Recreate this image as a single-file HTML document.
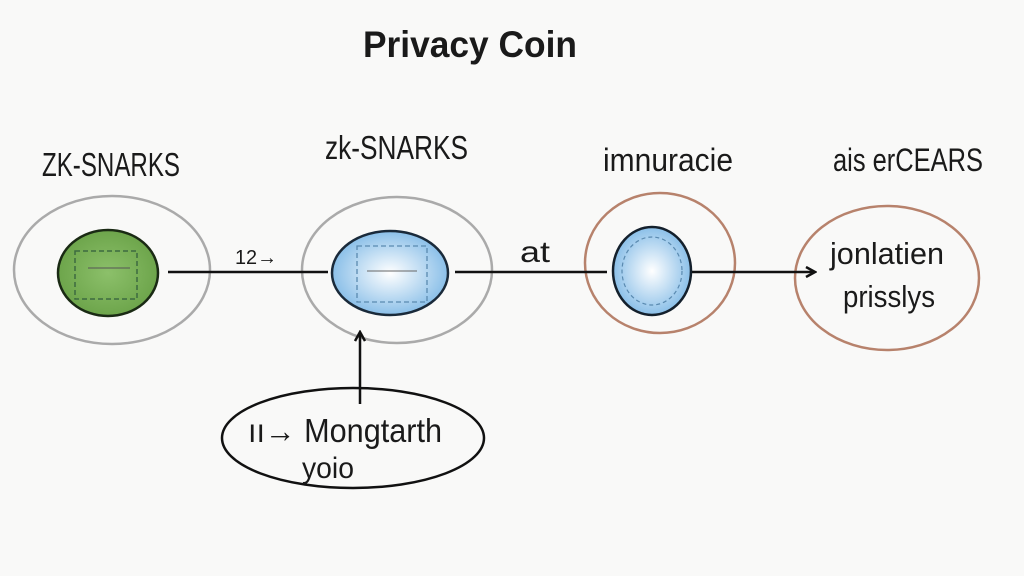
<!DOCTYPE html>
<html><head><meta charset="utf-8"><style>
html,body{margin:0;padding:0;background:#f9f9f8;}
svg{display:block}
text{font-family:"Liberation Sans",sans-serif;fill:#1a1a1a}
</style></head><body>
<svg width="1024" height="576" viewBox="0 0 1024 576" xmlns="http://www.w3.org/2000/svg">
<defs>
<radialGradient id="bg1" cx="50%" cy="50%" r="55%"><stop offset="0" stop-color="#ffffff"/><stop offset="1" stop-color="#7fb9e6"/></radialGradient>
<radialGradient id="gg" cx="50%" cy="50%" r="55%"><stop offset="0" stop-color="#8cc06a"/><stop offset="1" stop-color="#6aa248"/></radialGradient>
<marker id="ah" markerWidth="12" markerHeight="12" refX="10" refY="6" orient="auto" markerUnits="userSpaceOnUse"><path d="M1,1 L10,6 L1,11" fill="none" stroke="#111" stroke-width="2.5"/></marker>
</defs>
<rect width="1024" height="576" fill="#f9f9f8"/>
<text x="363" y="57" font-size="37" font-weight="bold" textLength="214" lengthAdjust="spacingAndGlyphs">Privacy Coin</text>
<text x="42" y="176" font-size="33" textLength="138" lengthAdjust="spacingAndGlyphs">ZK-SNARKS</text>
<text x="325" y="159" font-size="33" textLength="143" lengthAdjust="spacingAndGlyphs">zk-SNARKS</text>
<text x="603" y="171" font-size="32" textLength="130" lengthAdjust="spacingAndGlyphs">imnuracie</text>
<text x="833" y="171" font-size="32" textLength="150" lengthAdjust="spacingAndGlyphs">ais erCEARS</text>

<ellipse cx="112" cy="270" rx="98" ry="74" fill="none" stroke="#aaa" stroke-width="2.5"/>
<ellipse cx="108" cy="273" rx="50" ry="43" fill="url(#gg)" stroke="#1a2a14" stroke-width="2.5"/>
<rect x="75" y="251" width="62" height="48" fill="none" stroke="#3d6a40" stroke-width="1.5" stroke-dasharray="5,3"/>
<line x1="88" y1="268" x2="130" y2="268" stroke="#555" stroke-width="1"/>

<ellipse cx="397" cy="270" rx="95" ry="73" fill="none" stroke="#aaa" stroke-width="2.5"/>
<ellipse cx="390" cy="273" rx="58" ry="42" fill="url(#bg1)" stroke="#1a2a3a" stroke-width="2.5"/>
<rect x="357" y="246" width="70" height="56" fill="none" stroke="#5a8ab0" stroke-width="1.3" stroke-dasharray="5,3"/>
<line x1="367" y1="271" x2="417" y2="271" stroke="#666" stroke-width="1"/>

<ellipse cx="660" cy="263" rx="75" ry="70" fill="none" stroke="#b7826c" stroke-width="2.5"/>
<ellipse cx="652" cy="271" rx="39" ry="44" fill="url(#bg1)" stroke="#14202c" stroke-width="2.5"/>
<ellipse cx="652" cy="271" rx="30" ry="34" fill="none" stroke="#5a8ab0" stroke-width="1.2" stroke-dasharray="4,3"/>

<ellipse cx="887" cy="278" rx="92" ry="72" fill="none" stroke="#b7826c" stroke-width="2.5"/>
<text x="830" y="264" font-size="31" textLength="114" lengthAdjust="spacingAndGlyphs">jonlatien</text>
<text x="843" y="307" font-size="31" textLength="92" lengthAdjust="spacingAndGlyphs">prisslys</text>

<line x1="168" y1="272" x2="328" y2="272" stroke="#111" stroke-width="2.5"/>
<text x="235" y="264" font-size="20" textLength="42" lengthAdjust="spacingAndGlyphs">12→</text>
<line x1="455" y1="272" x2="607" y2="272" stroke="#111" stroke-width="2.5"/>
<text x="520" y="262" font-size="30" textLength="30" lengthAdjust="spacingAndGlyphs">at</text>
<line x1="692" y1="272" x2="815" y2="272" stroke="#111" stroke-width="2.5" marker-end="url(#ah)"/>
<line x1="360" y1="404" x2="360" y2="332" stroke="#111" stroke-width="2.5" marker-end="url(#ah)"/>

<ellipse cx="353" cy="438" rx="131" ry="50" fill="none" stroke="#111" stroke-width="2.5"/>
<text x="248" y="442" font-size="33" textLength="194" lengthAdjust="spacingAndGlyphs">ıı→ Mongtarth</text>
<text x="302" y="478" font-size="30" textLength="52" lengthAdjust="spacingAndGlyphs">yoio</text>
</svg>
</body></html>
